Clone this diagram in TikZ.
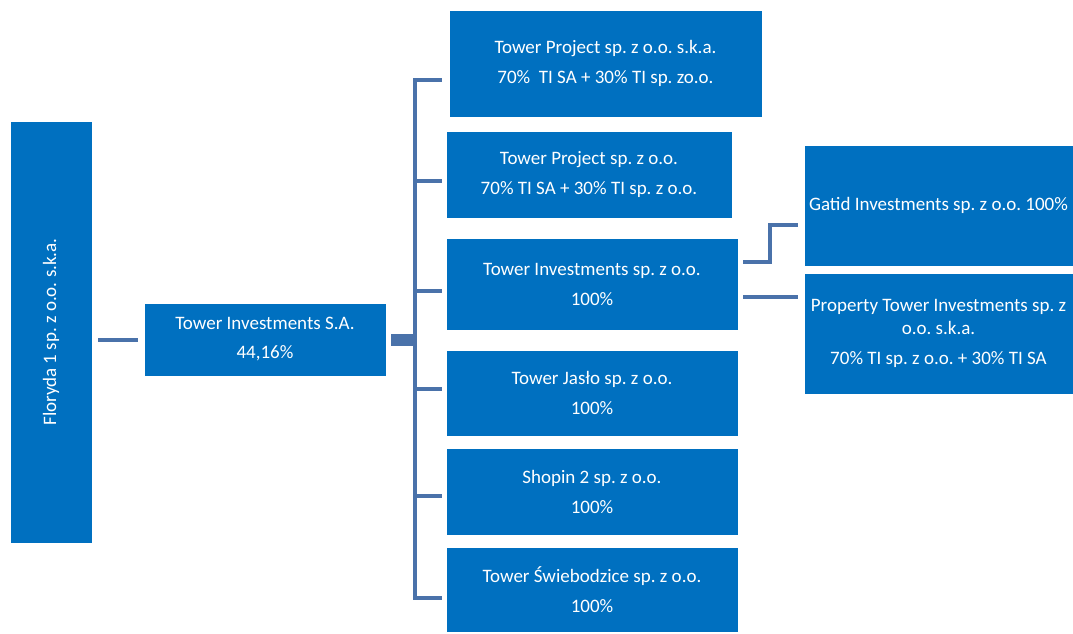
\documentclass[tikz,border=0pt]{standalone}
\usepackage{fontspec}
\setmainfont{Carlito}
\usetikzlibrary{calc}
\definecolor{boxblue}{HTML}{0070C0}
\definecolor{linkblue}{HTML}{4A72AA}
\frenchspacing
\begin{document}
\begin{tikzpicture}[x=1pt,y=-1pt,
  org/.style={fill=boxblue, draw=white, line width=0.6pt, text=white, inner sep=0pt, align=center,
    font=\fontsize{19}{23}\selectfont},
  lbl/.style={text=white, inner sep=0pt, font=\fontsize{19}{23}\selectfont},
  link/.style={draw=linkblue, line width=4pt},
  stub/.style={draw=linkblue, line width=12pt}]
\useasboundingbox (0,0) rectangle (1073,633);
\node[org, minimum width=82pt, minimum height=422pt] (flo) at (51,332) {};
\node[lbl, rotate=90] (flot) at (51,332) {Floryda 1 sp. z o.o. s.k.a.};
\node[org, minimum width=242pt, minimum height=73pt] (tisa) at (265,339.5) {Tower Investments S.A.\\[6pt]44,16\%};
\node[org, minimum width=313pt, minimum height=107pt] (b1) at (605.5,63.5) {Tower Project sp. z o.o. s.k.a.\\[7pt]70\%~~TI SA + 30\% TI sp. zo.o.};
\node[org, minimum width=286pt, minimum height=87pt] (b2) at (589,174.5) {Tower Project sp. z o.o.\\[7pt]70\% TI SA + 30\% TI sp. z o.o.};
\node[org, minimum width=292pt, minimum height=92pt] (b3) at (592,284) {Tower Investments sp. z o.o.\\[7pt]100\%};
\node[org, minimum width=292pt, minimum height=86pt] (b4) at (592,393) {Tower Jasło sp. z o.o.\\[7pt]100\%};
\node[org, minimum width=292pt, minimum height=87pt] (b5) at (592,491.5) {Shopin 2 sp. z o.o.\\[7pt]100\%};
\node[org, minimum width=292pt, minimum height=85pt] (b6) at (592,589.5) {Tower Świebodzice sp. z o.o.\\[7pt]100\%};
\node[org, minimum width=269pt, minimum height=121pt] (g) at (938.5,205.5) {Gatid Investments sp. z o.o. 100\%};
\node[org, minimum width=269pt, minimum height=121pt] (p) at (938.5,333.5) {Property Tower Investments sp. z\\o.o. s.k.a.\\[7pt]70\% TI sp. z o.o. + 30\% TI SA};
% connectors
\draw[link] ($(flo.east |- tisa.west)+(6,0)$) -- ($(tisa.west)+(-6,0)$);
\coordinate (s0) at ($(tisa.east)+(5,0)$);
\coordinate (tr) at (415,339.5);
\draw[stub] (s0) -- (tr);
\draw[link] ($(b1.west |- 0,80)+(-7,0)$) -- (415,80) -- (415,598) -- ($(b6.west |- 0,598)+(-4,0)$);
\foreach \n/\yy in {b2/181, b3/291, b4/389, b5/496}
  \draw[link] (413,\yy) -- ($(\n.west |- 0,\yy)+(-4,0)$);
\draw[link] ($(b3.east |- 0,262)+(5,0)$) -| (770,225) -- ($(g.west |- 0,225)+(-6,0)$);
\draw[link] ($(b3.east |- 0,297)+(5,0)$) -- ($(p.west |- 0,297)+(-6,0)$);
\end{tikzpicture}
\end{document}
